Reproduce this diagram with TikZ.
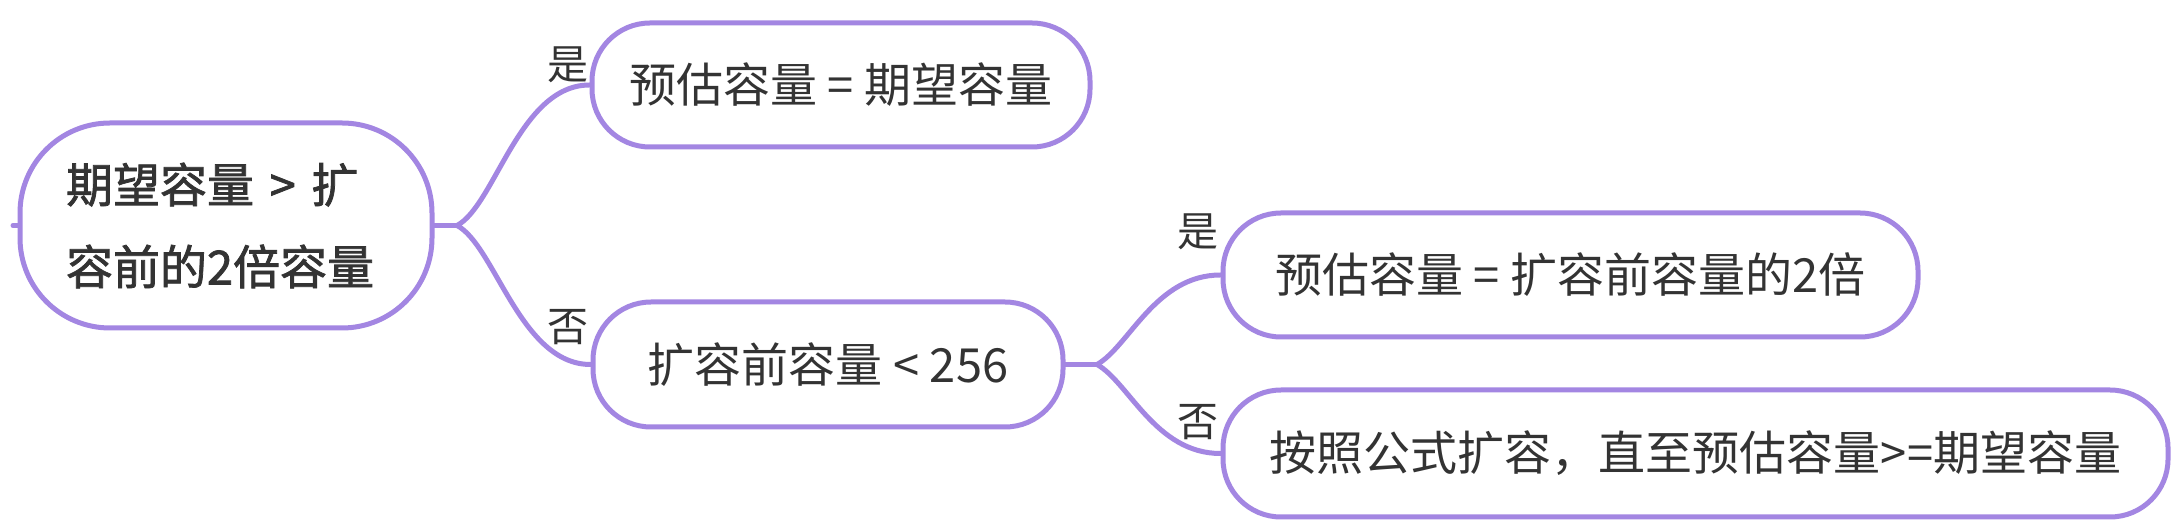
\documentclass[tikz,border=0pt]{standalone}
\usepackage{fontspec}
\setmainfont{Noto Sans CJK SC}
\newfontfamily\rootfont[FakeBold=1.6]{Noto Sans CJK SC}
\usetikzlibrary{shapes}

\begin{document}
\begin{tikzpicture}[x=1pt,y=1pt,
  topic/.style={draw=lineColor,line width=5pt,fill=white,rounded corners=58pt,
    text=textColor,inner sep=0pt,font=\fontsize{47}{82}\selectfont},
  branch/.style={draw=lineColor,line width=5pt,line cap=round},
  answer/.style={text=textColor,inner sep=0pt,font=\fontsize{41}{41}\selectfont}]
\definecolor{lineColor}{RGB}{163,134,226}
\definecolor{textColor}{RGB}{51,51,51}
\path[use as bounding box,fill=white] (0,0) rectangle (2175,532);

% topics
\node[topic,rounded corners=90pt,minimum width=412pt,minimum height=205pt,text width=320pt,align=left,font=\rootfont\fontsize{47}{82}\selectfont] (root) at (226,306.5) {期望容量 > 扩\\容前的2倍容量};
\node[topic,minimum width=498pt,minimum height=124pt] (equal) at (841,447) {预估容量 = 期望容量};
\node[topic,minimum width=470pt,minimum height=125pt] (small) at (828,167.5) {扩容前容量 < 256};
\node[topic,minimum width=695pt,minimum height=124pt] (double) at (1570.5,257) {预估容量 = 扩容前容量的2倍};
\node[topic,minimum width=945pt,minimum height=127pt] (formula) at (1695.5,78.5) {按照公式扩容，直至预估容量>=期望容量};

% yes / no
\node[answer] (yesA) at (568,467) {是};
\node[answer] (noA) at (568,205) {否};
\node[answer] (yesB) at (1198,300) {是};
\node[answer] (noB) at (1198,110) {否};

% connectors
\coordinate (stub) at (13,306.5);
\coordinate (forkA) at (457,306.5);
\coordinate (forkB) at (1097,167.5);
\path[branch] (root.west) -- (stub);
\path[branch] (root.east) -- (forkA);
\path[branch] (forkA) .. controls +(38,20) and +(-70,0) .. (equal.west);
\path[branch] (forkA) .. controls +(38,-20) and +(-70,0) .. (small.west);
\path[branch] (small.east) -- (forkB);
\path[branch] (forkB) .. controls +(32,18) and +(-65,0) .. (double.west);
\path[branch] (forkB) .. controls +(32,-18) and +(-65,0) .. (formula.west);
\end{tikzpicture}
\end{document}
